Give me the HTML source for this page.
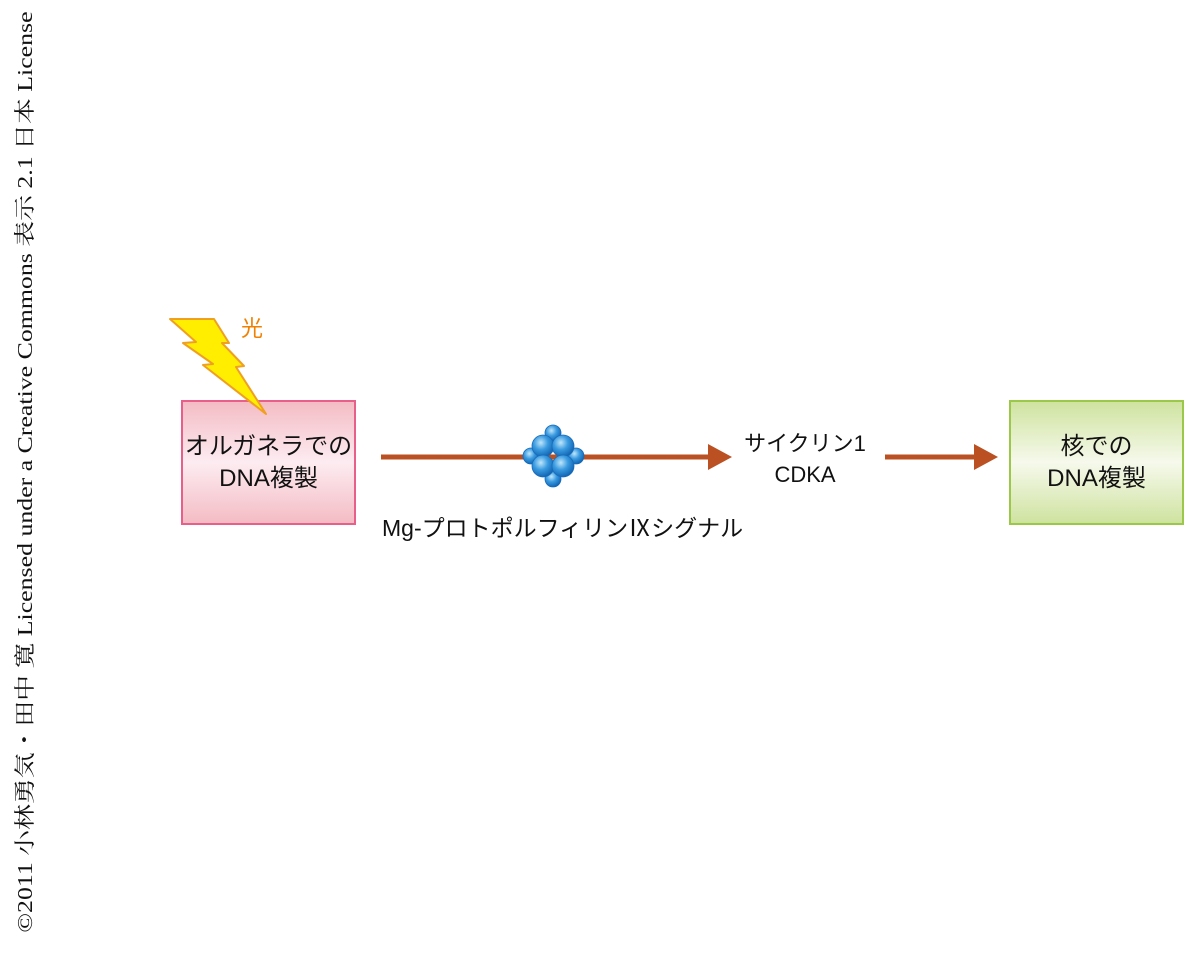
<!DOCTYPE html>
<html style="overflow:hidden;width:1200px;height:955px"><head><meta charset="utf-8"><style>
body{margin:0;width:1200px;height:955px;background:#fff;position:relative;overflow:hidden;font-family:"Liberation Sans","Noto Sans CJK JP",sans-serif}
.abs{position:absolute}
.box{position:absolute;box-sizing:border-box;display:flex;align-items:center;justify-content:center;text-align:center;font-size:24px;line-height:32px;color:#111}
</style></head><body>
<div class="abs" style="left:-351px;top:458px;width:752px;height:28px;line-height:28px;text-align:center;transform:rotate(-90deg) scaleX(1.23);font-family:'Liberation Serif','Noto Serif CJK SC',serif;font-size:21px;color:#111;white-space:nowrap">©2011 小林勇気・田中 寛 Licensed under a Creative Commons 表示 2.1 日本 License</div>

<div class="box" style="left:181px;top:400px;width:175px;height:125px;border:2px solid #e8608a;background:linear-gradient(#f4bcc4,#fcecf1 50%,#f4bcc4)">オルガネラでの<br>DNA複製</div>
<div class="box" style="left:1009px;top:400px;width:175px;height:125px;border:2px solid #9cc84a;background:linear-gradient(#cfe3a0,#f6f9ec 50%,#cfe3a0)">核での<br>DNA複製</div>

<svg class="abs" style="left:0;top:0" width="1200" height="955">
<defs><radialGradient id="b" cx="40%" cy="35%" r="65%"><stop offset="0" stop-color="#bfe6fb"/><stop offset="0.5" stop-color="#3a9be0"/><stop offset="1" stop-color="#1266b5"/></radialGradient></defs>
<polygon points="170,319 214,319 229,343 222,343 244,366 236,367 266,414 203,365 213,364 183,343 196,342" fill="#ffee00" stroke="#f0a020" stroke-width="2" stroke-linejoin="round"/>
<line x1="381" y1="457" x2="710" y2="457" stroke="#bb5022" stroke-width="5"/>
<polygon points="708,444 732,457 708,470" fill="#bb5022"/>
<line x1="885" y1="457" x2="976" y2="457" stroke="#bb5022" stroke-width="5"/>
<polygon points="974,444 998,457 974,470" fill="#bb5022"/>
<g fill="url(#b)" stroke="#1a6ab8" stroke-width="0.8">
<circle cx="553" cy="433" r="8"/><circle cx="553" cy="479" r="8"/>
<circle cx="531" cy="456" r="8"/><circle cx="576" cy="456" r="8"/>
<circle cx="543" cy="446" r="11"/><circle cx="563" cy="446" r="11"/>
<circle cx="543" cy="466" r="11"/><circle cx="563" cy="466" r="11"/>
</g>
</svg>

<div class="abs" style="left:241px;top:311px;font-size:22px;color:#f08000">光</div>
<div class="abs" style="left:382px;top:509px;font-size:23px;color:#111;white-space:nowrap">Mg-プロトポルフィリンⅨシグナル</div>
<div class="abs" style="left:730px;top:428px;width:150px;text-align:center;font-size:22px;line-height:31px;color:#111">サイクリン1<br>CDKA</div>
</body></html>
